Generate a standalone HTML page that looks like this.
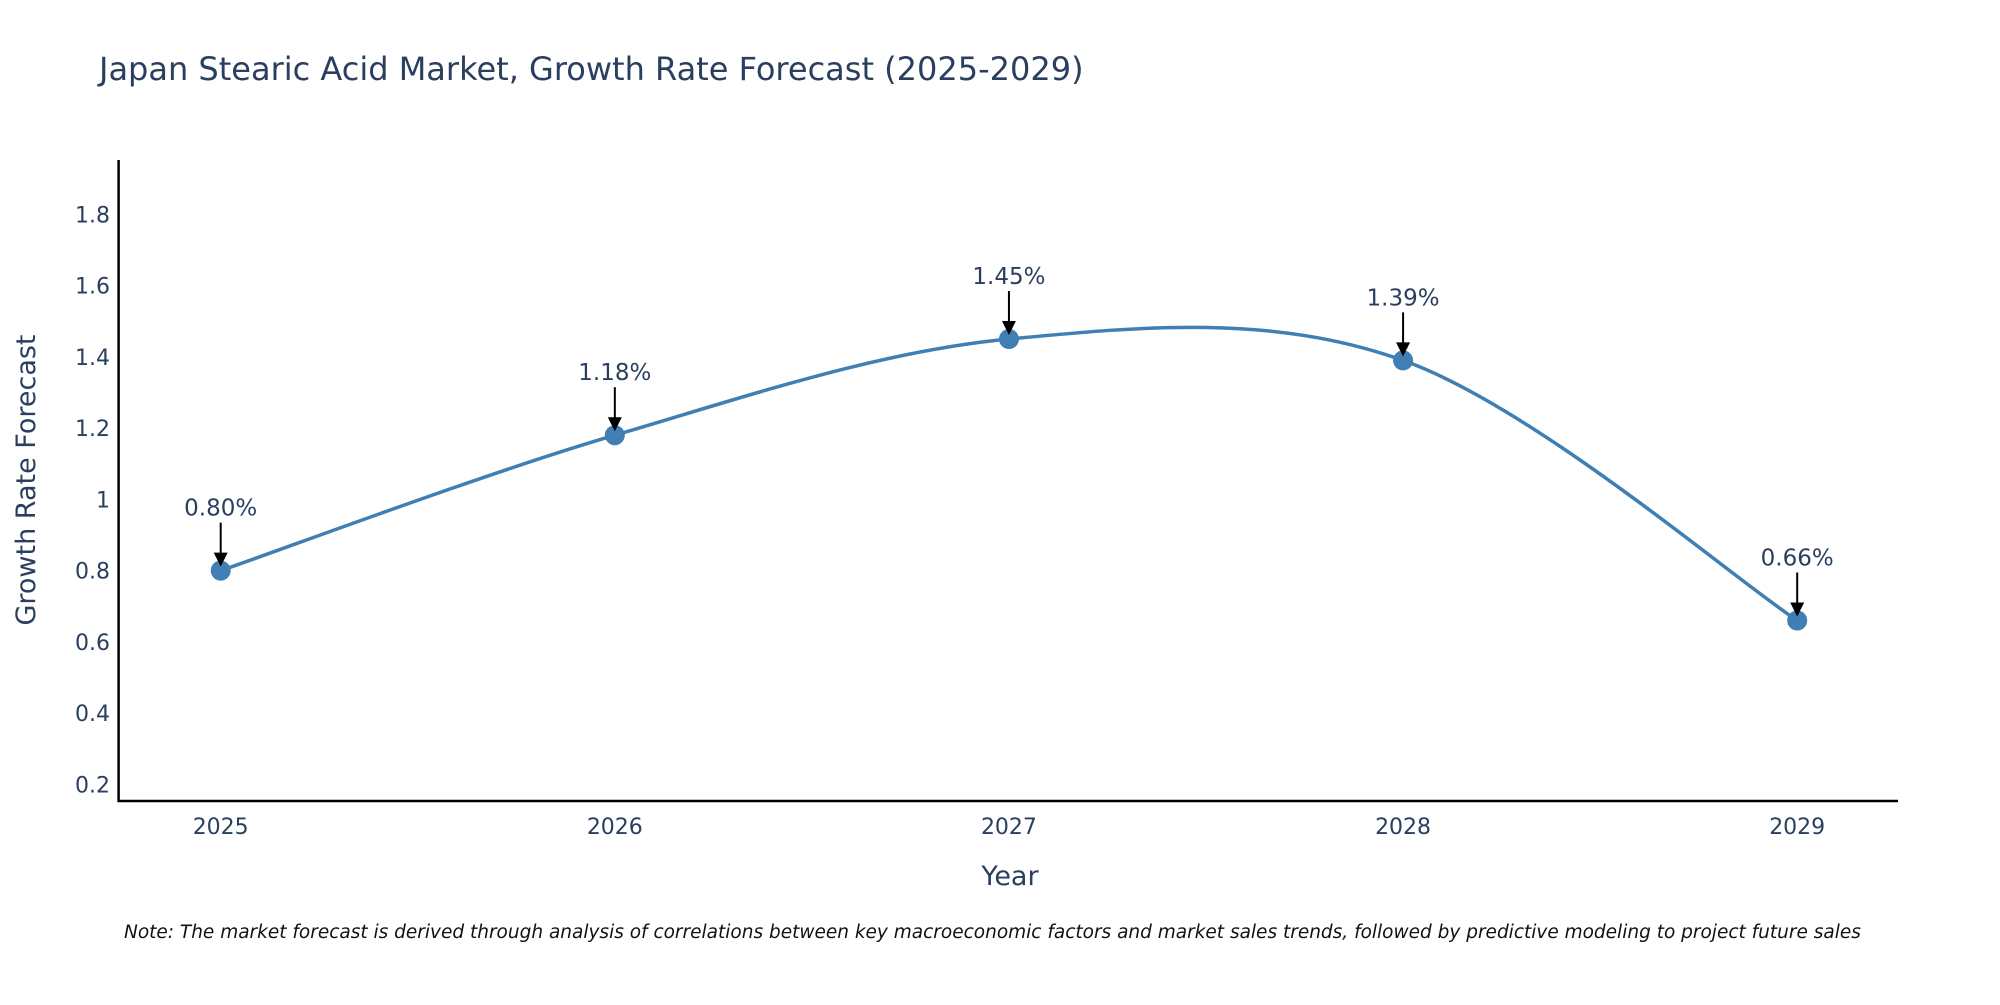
<!DOCTYPE html>
<html><head><meta charset="utf-8"><style>
body{margin:0;background:#fff}
svg text{font-family:"DejaVu Sans","Liberation Sans",sans-serif;fill:#2a3f5f}
</style></head><body>
<svg id="chart" width="2000" height="1000" viewBox="0 0 2000 1000" xmlns="http://www.w3.org/2000/svg">
<rect width="2000" height="1000" fill="#fff"/>
<text x="99" y="80" font-size="32">Japan Stearic Acid Market, Growth Rate Forecast (2025-2029)</text>
<g id="yticks"></g><g id="xticks"></g>
<line x1="118.6" y1="160" x2="118.6" y2="802" stroke="#000" stroke-width="2.5"/>
<line x1="117.5" y1="801" x2="1898" y2="801" stroke="#000" stroke-width="2.5"/>
<path id="line" fill="none" stroke="#3f7fb3" stroke-width="3.5"/>
<g id="points"></g><g id="annots"></g>
<text transform="translate(35,480) rotate(-90)" text-anchor="middle" font-size="27">Growth Rate Forecast</text>
<text x="1010" y="885" text-anchor="middle" font-size="27">Year</text>
<text x="124" y="938" font-size="18.5" font-style="italic" style="fill:#111">Note: The market forecast is derived through analysis of correlations between key macroeconomic factors and market sales trends, followed by predictive modeling to project future sales</text>
</svg>
<script>
const years=["2025","2026","2027","2028","2029"];
const values=[0.80,1.18,1.45,1.39,0.66];
const labels=["0.80%","1.18%","1.45%","1.39%","0.66%"];
const yTicks=[0.2,0.4,0.6,0.8,1,1.2,1.4,1.6,1.8];
const NS="http://www.w3.org/2000/svg";
function X(i){return 220.7+i*(1797.2-220.7)/(years.length-1);}
function Y(v){return 784.4-(v-0.2)*356.3;}
function mk(t,a,p){const e=document.createElementNS(NS,t);for(const k in a)e.setAttribute(k,a[k]);p.appendChild(e);return e;}
const yt=document.getElementById('yticks');
yTicks.forEach(v=>{const t=mk('text',{x:110,y:Y(v)+8,'text-anchor':'end','font-size':'22'},yt);


t.textContent=String(v);});
const xt=document.getElementById('xticks');
years.forEach((y,i)=>{const t=mk('text',{x:X(i),y:834,'text-anchor':'middle','font-size':'22'},xt);


t.textContent=y;});
const pts=values.map((v,i)=>[X(i),Y(v)]);
let d='M'+pts[0][0]+','+pts[0][1];
for(let i=0;i<pts.length-1;i++){const p0=pts[Math.max(0,i-1)],p1=pts[i],p2=pts[i+1],p3=pts[Math.min(pts.length-1,i+2)];
const k=1/6;d+=' C'+(p1[0]+(p2[0]-p0[0])*k)+','+(p1[1]+(p2[1]-p0[1])*k)+' '+(p2[0]-(p3[0]-p1[0])*k)+','+(p2[1]-(p3[1]-p1[1])*k)+' '+p2[0]+','+p2[1];}
document.getElementById('line').setAttribute('d',d);
const pg=document.getElementById('points'),ag=document.getElementById('annots');
pts.forEach((p,i)=>{const c=mk('circle',{cx:p[0],cy:p[1],r:10,fill:'#3f7fb3'},pg);


const l=mk('line',{x1:p[0],y1:p[1]-48,x2:p[0],y2:p[1]-14,stroke:'#000','stroke-width':'2'},ag);


const h=mk('polygon',{points:(p[0]-7)+','+(p[1]-18)+' '+(p[0]+7)+','+(p[1]-18)+' '+p[0]+','+(p[1]-4),fill:'#000'},ag);


const t=mk('text',{x:p[0],y:p[1]-55,'text-anchor':'middle','font-size':'23'},ag);


t.textContent=labels[i];});
</script>
</body></html>
